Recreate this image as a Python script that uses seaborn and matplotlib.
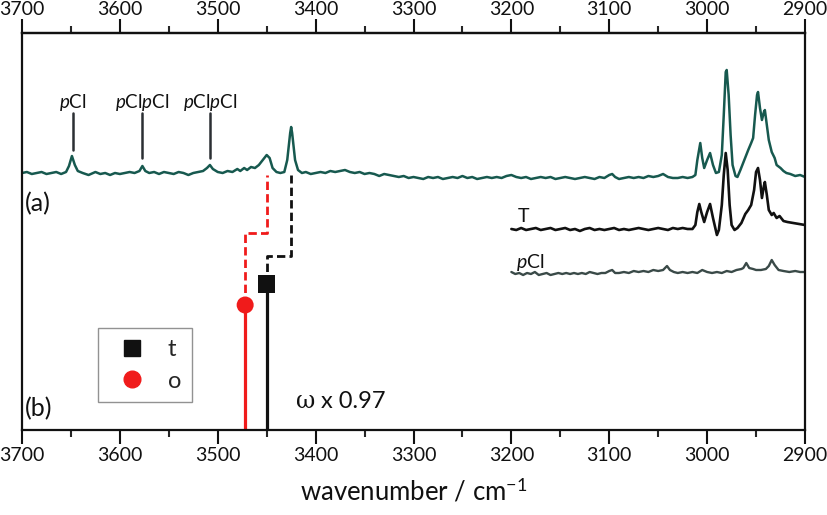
import numpy as np
import pandas as pd
import seaborn as sns
import matplotlib
matplotlib.use("Agg")
import matplotlib.pyplot as plt
from matplotlib.lines import Line2D

# ---------------- data ----------------
# Spectrum (a): wavenumber / intensity (arb. units)
a_wn = [3700, 3695, 3690, 3685, 3680, 3675, 3670, 3665, 3660, 3655, 3652, 3649, 3646, 3643, 3638,
        3632, 3625, 3620, 3615, 3610, 3605, 3600, 3595, 3590, 3585, 3580, 3577, 3574, 3570, 3565,
        3560, 3555, 3550, 3545, 3540, 3535, 3530, 3525, 3520, 3515, 3511, 3508, 3505, 3500, 3495,
        3490, 3485, 3480, 3477, 3473, 3470, 3466, 3462, 3458, 3454, 3450, 3447, 3444, 3440, 3436,
        3432, 3429, 3426, 3425, 3424, 3421, 3418, 3414, 3410, 3405, 3400, 3395, 3390, 3385, 3380,
        3375, 3370, 3365, 3360, 3355, 3350, 3345, 3340, 3335, 3330, 3325, 3320, 3315, 3310, 3305,
        3300, 3295, 3290, 3285, 3280, 3275, 3270, 3265, 3260, 3255, 3250, 3245, 3240, 3235, 3230,
        3225, 3220, 3215, 3210, 3205, 3200, 3195, 3190, 3185, 3180, 3175, 3170, 3165, 3160, 3155,
        3150, 3145, 3140, 3135, 3130, 3125, 3120, 3115, 3110, 3105, 3100, 3097, 3094, 3090, 3085,
        3080, 3075, 3070, 3065, 3060, 3055, 3050, 3045, 3040, 3035, 3030, 3025, 3020, 3015, 3012,
        3010, 3007, 3005, 3003, 3000, 2997, 2994, 2991, 2988, 2985, 2983, 2981, 2980, 2978, 2976,
        2974, 2971, 2969, 2966, 2962, 2958, 2955, 2953, 2951, 2949, 2948, 2946, 2944, 2942, 2941,
        2939, 2937, 2934, 2931, 2929, 2925, 2922, 2919, 2915, 2910, 2905, 2900]
a_int = [257, 258, 256, 257, 258, 256, 257, 258, 256, 258, 264, 274, 265, 259, 257,
         255, 258, 256, 257, 255, 257, 256, 257, 258, 257, 259, 264, 259, 257, 258,
         256, 258, 257, 256, 258, 257, 255, 257, 258, 259, 262, 265, 261, 258, 257,
         259, 258, 261, 259, 262, 260, 263, 262, 265, 270, 275, 272, 262, 258, 257,
         258, 270, 297, 303, 297, 270, 260, 257, 258, 256, 257, 258, 257, 259, 258,
         259, 260, 258, 257, 258, 256, 257, 256, 254, 256, 255, 254, 253, 254, 252,
         253, 252, 251, 253, 252, 253, 251, 252, 253, 252, 254, 252, 253, 251, 252,
         253, 252, 253, 252, 254, 255, 253, 252, 253, 251, 252, 253, 252, 253, 251,
         252, 253, 252, 251, 252, 253, 252, 251, 253, 252, 255, 256, 253, 251, 252,
         253, 252, 253, 252, 254, 253, 254, 256, 253, 252, 252, 253, 252, 253, 255,
         270, 287, 272, 262, 270, 277, 265, 257, 258, 275, 315, 358, 360, 335, 295,
         265, 254, 253, 260, 270, 280, 287, 292, 315, 335, 338, 322, 310, 318, 320,
         305, 290, 278, 272, 265, 262, 259, 257, 256, 254, 255, 253]

# Trace T
t_wn = [3200, 3195, 3190, 3185, 3180, 3175, 3170, 3165, 3160, 3155, 3150, 3145, 3140, 3135, 3130,
        3125, 3120, 3115, 3110, 3105, 3100, 3095, 3090, 3085, 3080, 3075, 3070, 3065, 3060, 3055,
        3050, 3045, 3040, 3035, 3030, 3025, 3020, 3015, 3012, 3010, 3008, 3006, 3003, 3000, 2997,
        2994, 2990, 2988, 2985, 2983, 2981, 2979, 2977, 2975, 2972, 2969, 2965, 2961, 2958, 2955,
        2952, 2950, 2948, 2946, 2944, 2942, 2941, 2939, 2937, 2934, 2932, 2929, 2926, 2922, 2918,
        2912, 2906, 2900]
t_int = [201, 200, 202, 200, 201, 202, 200, 201, 202, 200, 201, 202, 200, 201, 199,
         201, 202, 200, 201, 200, 201, 202, 200, 201, 200, 201, 202, 201, 200, 201,
         202, 201, 200, 202, 201, 202, 201, 201, 205, 218, 226, 218, 208, 218, 226,
         212, 195, 200, 225, 255, 277, 260, 225, 205, 200, 202, 207, 216, 220, 225,
         240, 258, 262, 250, 232, 244, 248, 235, 220, 215, 217, 212, 214, 209, 208,
         207, 206, 205]

# Trace pCl
p_wn = [3200, 3196, 3192, 3188, 3184, 3180, 3176, 3172, 3168, 3164, 3160, 3156, 3152, 3148, 3144,
        3140, 3136, 3132, 3128, 3124, 3120, 3116, 3112, 3108, 3104, 3100, 3097, 3094, 3090, 3085,
        3080, 3075, 3070, 3065, 3060, 3055, 3050, 3045, 3041, 3038, 3034, 3030, 3025, 3020, 3015,
        3010, 3005, 3000, 2995, 2990, 2985, 2980, 2975, 2970, 2965, 2963, 2960, 2957, 2953, 2950,
        2945, 2940, 2937, 2934, 2931, 2927, 2922, 2916, 2910, 2905, 2900]
p_int = [158, 156, 157, 155, 157, 156, 158, 155, 156, 157, 155, 156, 157, 156, 157,
         156, 157, 156, 157, 156, 158, 157, 156, 157, 157, 159, 160, 157, 157, 158,
         157, 159, 158, 159, 158, 160, 159, 160, 164, 160, 158, 157, 158, 157, 158,
         157, 160, 158, 157, 158, 157, 159, 158, 160, 161, 162, 167, 162, 161, 160,
         160, 161, 164, 170, 165, 160, 159, 158, 159, 158, 158]

# Computed harmonic frequencies (b), scaled by 0.97
conformers = ["t", "o"]
stick_wn = [3450, 3472]
stick_int = [146, 125]

# Assignment connectors (dashed): wavenumber path / height path
t_conn_wn = [3450, 3450, 3425, 3425]
t_conn_int = [146, 174, 174, 255]
o_conn_wn = [3472, 3472, 3450, 3450]
o_conn_int = [125, 197, 197, 255]

# Band labels on spectrum (a)
band_labels = ["$p$Cl", "$p$Cl$p$Cl", "$p$Cl$p$Cl"]
band_wn = [3648, 3577, 3508]
band_lo = [280, 272, 272]

xticks = [3700, 3600, 3500, 3400, 3300, 3200, 3100, 3000, 2900]
minor_xticks = [3650, 3550, 3450, 3350, 3250, 3150, 3050, 2950]

# ---------------- styling ----------------
sns.set_theme(style="white")
plt.rcParams["font.family"] = ["Lato", "DejaVu Sans"]
plt.rcParams["mathtext.fontset"] = "custom"
plt.rcParams["mathtext.rm"] = "Lato"
plt.rcParams["mathtext.it"] = "Lato:italic"

TEAL = "#17594f"
GREY = "#3a4a48"
BLACK = "#111111"
RED = "#f01b1b"

fig = plt.figure(figsize=(8.27, 5.15), dpi=100)
ax = fig.add_axes([22 / 827, 85 / 515, 783 / 827, 397 / 515])

df_a = pd.DataFrame({"wn": a_wn, "I": a_int})
df_t = pd.DataFrame({"wn": t_wn, "I": t_int})
df_p = pd.DataFrame({"wn": p_wn, "I": p_int})

sns.lineplot(data=df_a, x="wn", y="I", ax=ax, color=TEAL, lw=1.8, sort=False, estimator=None)
sns.lineplot(data=df_t, x="wn", y="I", ax=ax, color=BLACK, lw=1.9, sort=False, estimator=None)
sns.lineplot(data=df_p, x="wn", y="I", ax=ax, color=GREY, lw=1.7, sort=False, estimator=None)

# dashed connectors
ax.plot(t_conn_wn, t_conn_int, color=BLACK, lw=2.0, ls=(0, (3, 1.5)))
ax.plot(o_conn_wn, o_conn_int, color=RED, lw=2.0, ls=(0, (3, 1.5)))

# sticks
stick_colors = [BLACK, RED]
stick_markers = ["s", "o"]
for wn, h, c in zip(stick_wn, stick_int, stick_colors):
    ax.vlines(wn, 0, h, color=c, lw=2.3)
df_s = pd.DataFrame({"wn": stick_wn, "I": stick_int, "conf": conformers})
sns.scatterplot(data=df_s, x="wn", y="I", hue="conf", style="conf",
                palette=dict(zip(conformers, stick_colors)),
                markers=dict(zip(conformers, stick_markers)),
                s=150, edgecolor="none", ax=ax, legend=False, zorder=5)

# band labels
for lab, wn, lo in zip(band_labels, band_wn, band_lo):
    ax.plot([wn, wn], [lo, 317], color="#2b2f33", lw=1.8)
    ax.text(wn, 322, lab, ha="center", va="baseline", fontsize=13.5, color="#111111")

ax.text(3697, 226, "(a)", ha="left", va="center", fontsize=18, color="#111111")
ax.text(3697, 21, "(b)", ha="left", va="center", fontsize=18, color="#111111")
ax.text(3420, 22, "ω", ha="left", va="baseline", fontsize=17, color="#111111",
        family=["DejaVu Serif"])
ax.text(3394, 22, "x 0.97", ha="left", va="baseline", fontsize=17, color="#111111")
ax.text(3193, 208, "T", ha="left", va="baseline", fontsize=14, color="#111111")
ax.text(3195, 162, "$p$Cl", ha="left", va="baseline", fontsize=14, color="#111111")

# legend
handles = [Line2D([], [], ls="none", marker=m, color=c, markersize=11 if m == "s" else 12)
           for m, c in zip(stick_markers, stick_colors)]
leg = ax.legend(handles, conformers, loc="lower left", bbox_to_anchor=(0.097, 0.07),
                fontsize=17, frameon=True, fancybox=False, edgecolor="#777777",
                handletextpad=0.5, borderpad=0.45, labelspacing=0.45, handlelength=2.0,
                borderaxespad=0)
leg.get_frame().set_linewidth(1.0)

# axes
ax.set_xlim(3700, 2900)
ax.set_ylim(0, 397)
ax.set_yticks([])
ax.set_xticks(xticks)
ax.set_xticks(minor_xticks, minor=True)
ax.tick_params(axis="x", which="major", direction="out", length=10, width=1.5,
               top=False, bottom=True, labeltop=False, labelbottom=True,
               labelsize=14, colors="#111111", pad=2)
ax.tick_params(axis="x", which="minor", direction="out", length=5, width=1.5,
               top=False, bottom=True)

sec = ax.secondary_xaxis("top")
sec.set_xticks(xticks)
sec.set_xticks(minor_xticks, minor=True)
sec.tick_params(axis="x", which="major", direction="out", length=10, width=1.5,
                labelsize=14, colors="#111111", pad=1)
sec.tick_params(axis="x", which="minor", direction="out", length=5, width=1.5)
sec.spines["top"].set_linewidth(1.6)
sec.spines["top"].set_color("#111111")

for sp in ax.spines.values():
    sp.set_visible(True)
    sp.set_color("#111111")
    sp.set_linewidth(1.6)
ax.set_xlabel("wavenumber / cm$^{-1}$", fontsize=18.5, color="#111111", labelpad=10)
ax.set_ylabel("")

fig.savefig("out.png", dpi=100)
